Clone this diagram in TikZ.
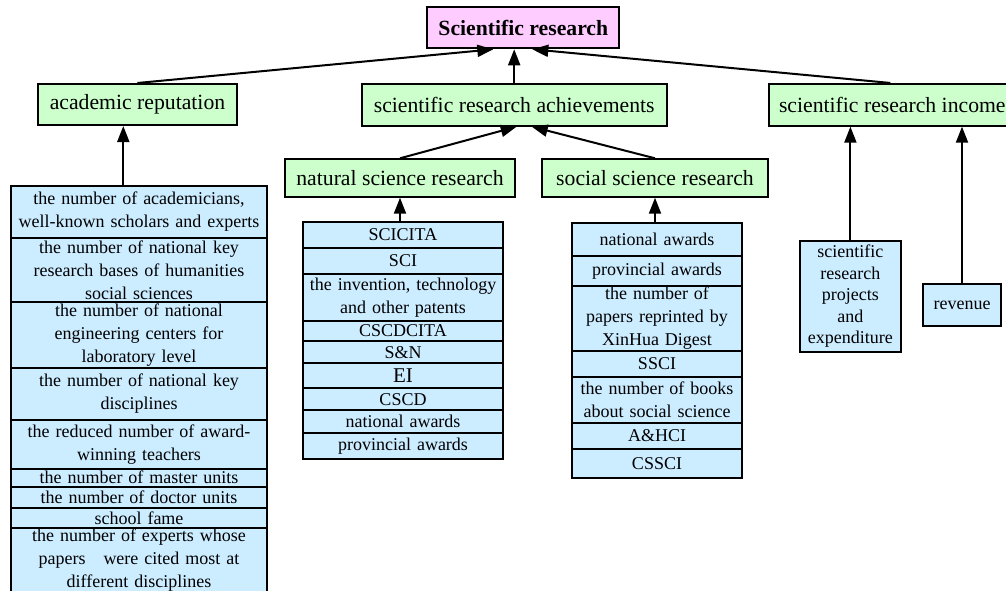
\documentclass[tikz,border=0pt]{standalone}
\usepackage{fontspec}
\setmainfont{Liberation Serif}
\usetikzlibrary{positioning,arrows.meta}
\definecolor{pinkfill}{RGB}{255,204,255}
\definecolor{greenfill}{RGB}{204,255,204}
\definecolor{bluefill}{RGB}{204,236,255}
\tikzset{
root/.style = {draw, fill=pinkfill, rectangle, align = center, inner sep=0pt, font=\bfseries\fontsize{21.7}{26}\selectfont},
group/.style = {draw, fill=greenfill, rectangle, align = center, inner sep=0pt, font=\fontsize{21.7}{26}\selectfont},
item/.style = {draw, fill=bluefill, rectangle, align = center, inner xsep=2pt, inner ysep=0pt, outer sep=0pt, font=\fontsize{18}{23}\selectfont}
}

\begin{document}
\begin{tikzpicture}[x=1pt, y=-1pt, line width=2pt, >={Triangle[length=16pt,width=12pt]},
    repitem/.style={item, text width=252pt},
    natitem/.style={item, text width=196.6pt},
    socitem/.style={item, text width=165.4pt}]
    \useasboundingbox (0,0) rectangle (1006,591);

    \node [root, minimum width=192pt, minimum height=41pt] (title) at (523.3,27.8) {Scientific research};

    \node [group, minimum width=198.4pt, minimum height=41pt] (rep) at (137.5,104.5) {academic reputation};
    \node [group, minimum width=305pt, minimum height=41.7pt] (ach) at (514.2,104.8) {scientific research achievements};
    \node [group, minimum width=246pt, minimum height=41.7pt] (inc) at (892.3,104.8) {scientific research income};

    \node [group, minimum width=230pt, minimum height=37.4pt] (nat) at (400,178) {natural science research};
    \node [group, minimum width=226.6pt, minimum height=37.4pt] (soc) at (655,178) {social science research};

    % academic reputation list
    \node [repitem, anchor=north, minimum height=52pt] (rep1) at (139,186)
      {the number of academicians,\\well-known scholars and experts};
    \node [repitem, below=0pt of rep1, minimum height=64pt] (rep2)
      {the number of national key\\research bases of humanities\\social sciences};
    \node [repitem, below=0pt of rep2, minimum height=66pt] (rep3)
      {the number of national\\engineering centers for\\laboratory level};
    \node [repitem, below=0pt of rep3, minimum height=52pt] (rep4)
      {the number of national key\\disciplines};
    \node [repitem, below=0pt of rep4, minimum height=48.5pt] (rep5)
      {the reduced number of award-\\winning teachers};
    \node [repitem, below=0pt of rep5, minimum height=18pt] (rep6) {the number of master units};
    \node [repitem, below=0pt of rep6, minimum height=21pt] (rep7) {the number of doctor units};
    \node [repitem, below=0pt of rep7, minimum height=20.6pt] (rep8) {school fame};
    \node [repitem, below=0pt of rep8, minimum height=64pt] (rep9)
      {the number of experts whose\\papers\ \ \ were cited most at\\different disciplines};

    % natural science list
    \node [natitem, anchor=north, minimum height=26pt] (nat1) at (403,221.7) {SCICITA};
    \node [natitem, below=0pt of nat1, minimum height=26.3pt] (nat2) {SCI};
    \node [natitem, below=0pt of nat2, minimum height=46.7pt] (nat3)
      {the invention, technology\\and other patents};
    \node [natitem, below=0pt of nat3, minimum height=20.3pt] (nat4) {CSCDCITA};
    \node [natitem, below=0pt of nat4, minimum height=22.3pt] (nat5) {S\&N};
    \node [natitem, below=0pt of nat5, minimum height=25pt, font=\fontsize{21}{23}\selectfont] (nat6) {EI};
    \node [natitem, below=0pt of nat6, minimum height=21.7pt] (nat7) {CSCD};
    \node [natitem, below=0pt of nat7, minimum height=23.3pt] (nat8) {national awards};
    \node [natitem, below=0pt of nat8, minimum height=25.7pt] (nat9) {provincial awards};

    % social science list
    \node [socitem, anchor=north, minimum height=33.3pt] (soc1) at (657,222.7) {national awards};
    \node [socitem, below=0pt of soc1, minimum height=30pt] (soc2) {provincial awards};
    \node [socitem, below=0pt of soc2, minimum height=65pt] (soc3)
      {the number of\\papers reprinted by\\XinHua Digest};
    \node [socitem, below=0pt of soc3, minimum height=25.7pt] (soc4) {SSCI};
    \node [socitem, below=0pt of soc4, minimum height=46pt] (soc5)
      {the number of books\\about social science};
    \node [socitem, below=0pt of soc5, minimum height=26.3pt] (soc6) {A\&HCI};
    \node [socitem, below=0pt of soc6, minimum height=29.3pt] (soc7) {CSSCI};

    % income items
    \node [item, text width=96.7pt, minimum height=111pt, font=\fontsize{18}{21.5}\selectfont] (proj) at (850.4,296.2)
      {scientific\\research\\projects\\and\\expenditure};
    \node [item, text width=73.4pt, minimum height=41.7pt] (rev) at (962,304.9) {revenue};

    \draw[->] (rep.north) -- ([xshift=-30pt]title.south);
    \draw[->] (ach.north) -- (ach.north |- title.south);
    \draw[->] ([xshift=-2pt]inc.north) -- ([xshift=9pt]title.south);

    \draw[->] (nat.north) -- ([xshift=2.5pt]ach.south);
    \draw[->] (soc.north) -- ([xshift=17.5pt]ach.south);

    \coordinate (reptop) at ([xshift=-15.7pt]rep1.north);
    \draw[->] (reptop) -- (reptop |- rep.south);
    \draw[->] (nat.south |- nat1.north) -- (nat.south);
    \draw[->] (soc.south |- soc1.north) -- (soc.south);

    \draw[->] (proj.north) -- (proj.north |- inc.south);
    \draw[->] (rev.north) -- (rev.north |- inc.south);

\end{tikzpicture}
\end{document}
